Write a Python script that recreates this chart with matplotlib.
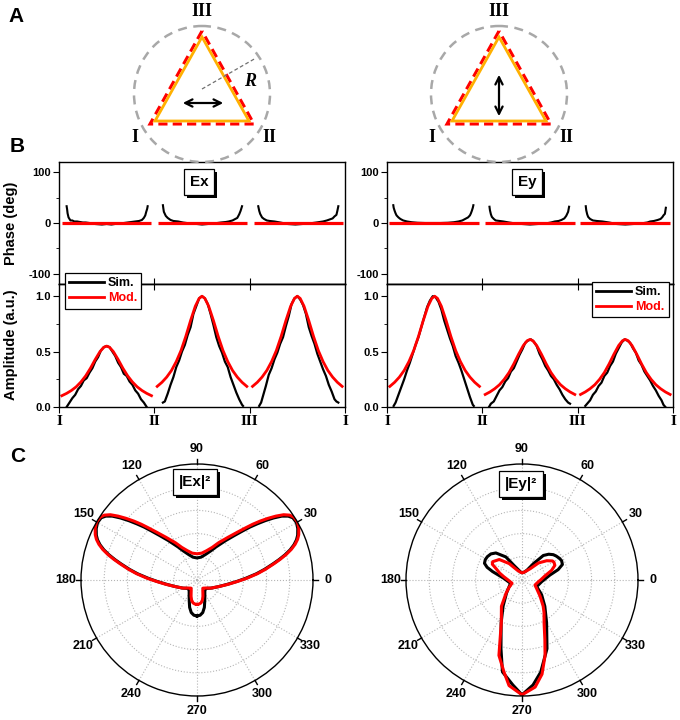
import matplotlib
matplotlib.use("Agg")
import matplotlib.patheffects as pe
import matplotlib.pyplot as plt
import numpy as np
from matplotlib.lines import Line2D
from matplotlib.patches import Circle, Polygon

plt.rcParams['font.family'] = ['Liberation Sans', 'DejaVu Sans']
plt.rcParams['font.weight'] = 'bold'
plt.rcParams['axes.unicode_minus'] = False
plt.rcParams['axes.linewidth'] = 1.0

SERIF = ['Liberation Serif', 'DejaVu Serif']
W, H = 680, 720

# ---------------- data ----------------
side_ticks = [0, 1, 2, 3]
side_names = ['I', 'II', 'III', 'I']

# model phase: flat zero line on each side (start, end along the side)
ex_mod_phase_span = [(0.03, 0.97), (0.04, 0.97), (0.05, 0.98)]
ey_mod_phase_span = [(0.025, 0.96), (0.03, 0.97), (0.025, 0.97)]

# simulated phase (deg), position along each side
ex_sim_phase_pos = [
    [0.08, 0.085, 0.09, 0.10, 0.11, 0.12, 0.14, 0.16, 0.19, 0.22, 0.25, 0.28, 0.32, 0.38, 0.45,
     0.50, 0.55, 0.62, 0.68, 0.72, 0.76, 0.80, 0.84, 0.87, 0.89, 0.905, 0.915, 0.925, 0.93],
    [0.09, 0.095, 0.10, 0.12, 0.14, 0.17, 0.20, 0.25, 0.30, 0.38, 0.45, 0.50, 0.56, 0.62, 0.70,
     0.75, 0.78, 0.82, 0.85, 0.87, 0.89, 0.905, 0.915, 0.92],
    [0.09, 0.10, 0.11, 0.13, 0.15, 0.18, 0.21, 0.26, 0.32, 0.40, 0.48, 0.55, 0.62, 0.70, 0.77,
     0.81, 0.84, 0.87, 0.89, 0.91, 0.92, 0.93],
]
ex_sim_phase = [
    [33, 27, 19, 11, 8, 5, 5, 3, 3, 2, 1, 1, 0, -2, -3, -2, -3, -1, 0, 1, 2, 3, 4, 6, 10, 15, 22, 28, 33],
    [35, 28, 22, 14, 10, 6, 4, 3, 1, -1, -2, -3, -2, -1, 1, 2, 3, 5, 8, 10, 17, 24, 30, 33],
    [33, 24, 18, 11, 8, 5, 4, 3, 1, -2, -3, -2, -1, 1, 3, 5, 7, 9, 13, 16, 24, 33],
]
ey_sim_phase_pos = [
    [0.066, 0.07, 0.08, 0.09, 0.10, 0.12, 0.14, 0.17, 0.21, 0.26, 0.32, 0.40, 0.48, 0.56, 0.64,
     0.70, 0.75, 0.79, 0.82, 0.85, 0.87, 0.88, 0.89, 0.90, 0.906],
    [0.075, 0.08, 0.09, 0.10, 0.12, 0.14, 0.18, 0.22, 0.28, 0.35, 0.42, 0.50, 0.58, 0.66, 0.72,
     0.76, 0.80, 0.83, 0.86, 0.88, 0.90, 0.91],
    [0.085, 0.09, 0.10, 0.11, 0.13, 0.16, 0.20, 0.26, 0.33, 0.41, 0.50, 0.58, 0.66, 0.73, 0.76,
     0.80, 0.84, 0.87, 0.89, 0.90, 0.915, 0.925],
]
ey_sim_phase = [
    [35, 30, 24, 19, 15, 11, 8, 5, 3, 1.5, 0.5, 0, 0, 0, 0.5, 1.5, 3, 5, 8, 11, 15, 19, 24, 30, 35],
    [32, 25, 17, 12, 8, 5, 4, 3, 1, -1, -2, -3, -2, -1, 1, 3, 4, 6, 9, 14, 22, 32],
    [33, 25, 17, 12, 8, 5, 4, 3, 1, -2, -3, -2, -1, 1, 3, 4, 6, 8, 12, 15, 18, 30],
]

# model amplitude, same positions on every side
mod_amp_pos = [0.03, 0.08, 0.13, 0.18, 0.23, 0.28, 0.33, 0.38, 0.43, 0.47, 0.50,
               0.53, 0.57, 0.62, 0.67, 0.72, 0.77, 0.82, 0.87, 0.92, 0.97]
ex_mod_amp = [
    [0.102, 0.123, 0.149, 0.182, 0.226, 0.281, 0.350, 0.429, 0.500, 0.539, 0.550,
     0.539, 0.500, 0.429, 0.350, 0.281, 0.226, 0.182, 0.149, 0.123, 0.102],
    [0.186, 0.223, 0.270, 0.330, 0.410, 0.510, 0.637, 0.780, 0.910, 0.980, 1.000,
     0.980, 0.910, 0.780, 0.637, 0.510, 0.410, 0.330, 0.270, 0.223, 0.186],
    [0.186, 0.223, 0.270, 0.330, 0.410, 0.510, 0.637, 0.780, 0.910, 0.980, 1.000,
     0.980, 0.910, 0.780, 0.637, 0.510, 0.410, 0.330, 0.270, 0.223, 0.186],
]
ey_mod_amp = [
    [0.186, 0.223, 0.270, 0.330, 0.410, 0.510, 0.637, 0.780, 0.910, 0.980, 1.000,
     0.980, 0.910, 0.780, 0.637, 0.510, 0.410, 0.330, 0.270, 0.223, 0.186],
    [0.113, 0.136, 0.165, 0.201, 0.250, 0.311, 0.389, 0.476, 0.555, 0.598, 0.610,
     0.598, 0.555, 0.476, 0.389, 0.311, 0.250, 0.201, 0.165, 0.136, 0.113],
    [0.113, 0.136, 0.165, 0.201, 0.250, 0.311, 0.389, 0.476, 0.555, 0.598, 0.610,
     0.598, 0.555, 0.476, 0.389, 0.311, 0.250, 0.201, 0.165, 0.136, 0.113],
]

# simulated amplitude
ex_sim_amp_pos = [
    [0.08, 0.11, 0.14, 0.17, 0.20, 0.23, 0.26, 0.29, 0.32, 0.35, 0.38, 0.41, 0.44, 0.47, 0.50,
     0.53, 0.56, 0.59, 0.62, 0.65, 0.68, 0.71, 0.74, 0.77, 0.80, 0.83, 0.86, 0.89, 0.92],
    [0.09, 0.11, 0.14, 0.17, 0.20, 0.23, 0.26, 0.29, 0.32, 0.35, 0.38, 0.41, 0.44, 0.47, 0.50,
     0.53, 0.56, 0.59, 0.62, 0.65, 0.68, 0.71, 0.74, 0.77, 0.80, 0.83, 0.86, 0.89, 0.92, 0.93],
    [0.10, 0.12, 0.14, 0.17, 0.20, 0.23, 0.26, 0.29, 0.32, 0.35, 0.38, 0.41, 0.44, 0.47, 0.50,
     0.53, 0.56, 0.59, 0.62, 0.65, 0.68, 0.71, 0.74, 0.77, 0.80, 0.83, 0.86, 0.89, 0.91, 0.93],
]
ex_sim_amp = [
    [0.00, 0.04, 0.08, 0.11, 0.16, 0.19, 0.24, 0.26, 0.31, 0.35, 0.41, 0.45, 0.51, 0.54, 0.55,
     0.54, 0.50, 0.46, 0.40, 0.36, 0.30, 0.28, 0.23, 0.20, 0.15, 0.12, 0.07, 0.04, 0.00],
    [0.04, 0.05, 0.12, 0.20, 0.27, 0.36, 0.42, 0.50, 0.56, 0.65, 0.72, 0.84, 0.91, 0.98, 1.00,
     0.98, 0.93, 0.84, 0.74, 0.63, 0.55, 0.49, 0.41, 0.36, 0.27, 0.20, 0.13, 0.07, 0.02, 0.01],
    [0.01, 0.04, 0.10, 0.19, 0.29, 0.35, 0.43, 0.49, 0.57, 0.63, 0.73, 0.82, 0.93, 0.98, 1.00,
     0.97, 0.92, 0.84, 0.72, 0.64, 0.57, 0.48, 0.41, 0.34, 0.28, 0.20, 0.14, 0.07, 0.05, 0.04],
]
ey_sim_amp_pos = [
    [0.07, 0.09, 0.12, 0.15, 0.18, 0.21, 0.24, 0.27, 0.30, 0.33, 0.36, 0.39, 0.42, 0.45, 0.48,
     0.51, 0.54, 0.57, 0.60, 0.63, 0.66, 0.69, 0.72, 0.75, 0.78, 0.81, 0.84, 0.87, 0.90, 0.91],
    [0.07, 0.09, 0.12, 0.15, 0.18, 0.21, 0.24, 0.27, 0.30, 0.33, 0.36, 0.39, 0.42, 0.45, 0.48,
     0.51, 0.54, 0.57, 0.60, 0.63, 0.66, 0.69, 0.72, 0.75, 0.78, 0.81, 0.84, 0.87, 0.90, 0.92],
    [0.08, 0.10, 0.13, 0.16, 0.19, 0.22, 0.25, 0.28, 0.31, 0.34, 0.37, 0.40, 0.43, 0.46, 0.49,
     0.52, 0.55, 0.58, 0.61, 0.64, 0.67, 0.70, 0.73, 0.76, 0.79, 0.82, 0.85, 0.88, 0.90, 0.92],
]
ey_sim_amp = [
    [0.01, 0.04, 0.11, 0.18, 0.25, 0.33, 0.40, 0.48, 0.56, 0.63, 0.72, 0.81, 0.90, 0.96, 1.00,
     0.99, 0.95, 0.88, 0.78, 0.70, 0.62, 0.55, 0.46, 0.40, 0.33, 0.25, 0.17, 0.09, 0.02, 0.01],
    [0.00, 0.03, 0.05, 0.10, 0.15, 0.18, 0.23, 0.26, 0.32, 0.35, 0.41, 0.47, 0.52, 0.58, 0.60,
     0.61, 0.59, 0.55, 0.48, 0.43, 0.37, 0.33, 0.28, 0.25, 0.20, 0.16, 0.11, 0.07, 0.04, 0.03],
    [0.01, 0.03, 0.06, 0.11, 0.14, 0.19, 0.22, 0.28, 0.31, 0.37, 0.41, 0.48, 0.53, 0.58, 0.61,
     0.60, 0.58, 0.53, 0.49, 0.42, 0.38, 0.32, 0.28, 0.24, 0.19, 0.15, 0.10, 0.06, 0.02, 0.00],
]

# far-field intensity, angle (deg) and radius
ex_ang = [-90, -85, -80, -75, -70, -65, -60, -54, -44, -30, -17, -8, -2, 2, 6, 9, 12, 14, 16, 18,
          20, 22, 24, 27, 30, 33, 35, 37, 39, 41, 43, 45, 47, 50, 54, 60, 65, 72, 80, 90,
          100, 108, 115, 120, 126, 130, 133, 135, 137, 139, 141, 143, 145, 147, 150, 153, 156, 158,
          160, 162, 164, 166, 168, 171, 174, 178, 182, 188, 197, 210, 224, 234, 240, 245, 250, 255,
          260, 265, 270]
ex_mod_r = [0.21, 0.208, 0.20, 0.18, 0.15, 0.12, 0.10, 0.087, 0.10, 0.14, 0.195, 0.27, 0.35, 0.43,
            0.525, 0.60, 0.68, 0.74, 0.80, 0.855, 0.90, 0.935, 0.96, 0.985, 1.0, 0.995, 0.975, 0.935,
            0.875, 0.81, 0.745, 0.68, 0.615, 0.535, 0.455, 0.37, 0.31, 0.265, 0.235, 0.226,
            0.235, 0.265, 0.31, 0.37, 0.455, 0.535, 0.615, 0.68, 0.745, 0.81, 0.875, 0.935, 0.975,
            0.995, 1.0, 0.985, 0.96, 0.935, 0.90, 0.855, 0.80, 0.74, 0.68, 0.60, 0.525, 0.43, 0.35,
            0.27, 0.195, 0.14, 0.10, 0.087, 0.10, 0.12, 0.15, 0.18, 0.20, 0.208, 0.21]
ex_sim_r = [0.31, 0.305, 0.285, 0.245, 0.195, 0.16, 0.135, 0.115, 0.105, 0.14, 0.195, 0.265, 0.345,
            0.42, 0.515, 0.59, 0.67, 0.73, 0.79, 0.845, 0.89, 0.925, 0.95, 0.975, 0.99, 0.985, 0.96,
            0.915, 0.85, 0.78, 0.71, 0.645, 0.58, 0.50, 0.42, 0.33, 0.275, 0.23, 0.20, 0.19,
            0.20, 0.23, 0.275, 0.33, 0.42, 0.50, 0.58, 0.645, 0.71, 0.78, 0.85, 0.915, 0.96, 0.985,
            0.99, 0.975, 0.95, 0.925, 0.89, 0.845, 0.79, 0.73, 0.67, 0.59, 0.515, 0.42, 0.345,
            0.265, 0.195, 0.14, 0.105, 0.115, 0.135, 0.16, 0.195, 0.245, 0.285, 0.305, 0.31]

ey_mod_ang = [-90, -83, -78, -73, -69, -63, -56, -51, -42, -30, -21, -6, 0, 10, 18, 24, 29, 32, 38,
              46, 54, 65, 78, 90, 101, 116, 128, 138, 148, 152, 156, 163, 170, 180, 198, 210, 220,
              232, 244, 253, 259, 263, 270]
ey_mod_r = [0.99, 0.93, 0.83, 0.68, 0.55, 0.42, 0.34, 0.29, 0.21, 0.145, 0.12, 0.142, 0.16, 0.20,
            0.268, 0.31, 0.315, 0.31, 0.27, 0.204, 0.12, 0.085, 0.066, 0.062, 0.068, 0.095, 0.18,
            0.264, 0.298, 0.29, 0.247, 0.20, 0.158, 0.12, 0.09, 0.13, 0.18, 0.288, 0.407, 0.68,
            0.81, 0.917, 0.99]
ey_sim_ang = [-90, -84, -78.5, -70, -60, -49, -37, -24, -5, 10, 16, 21, 26, 30, 35, 39, 44, 49, 55,
              63, 75, 90, 101, 119, 125, 134, 140, 146, 151, 156, 160, 164, 175, 196, 220, 234,
              244, 253, 258, 265, 270]
ey_sim_r = [0.99, 0.91, 0.81, 0.63, 0.424, 0.30, 0.212, 0.139, 0.17, 0.244, 0.324, 0.373, 0.38,
            0.373, 0.36, 0.347, 0.32, 0.28, 0.172, 0.095, 0.07, 0.062, 0.072, 0.145, 0.243, 0.324,
            0.35, 0.36, 0.362, 0.354, 0.32, 0.264, 0.156, 0.103, 0.174, 0.277, 0.41, 0.62, 0.81,
            0.908, 0.99]

polar_ticks = [0, 30, 60, 90, 120, 150, 180, 210, 240, 270, 300, 330]
polar_rings = [0.2, 0.4, 0.6, 0.8]


def px_rect(x0, y0, x1, y1):
    return [x0 / W, 1 - y1 / H, (x1 - x0) / W, (y1 - y0) / H]


def boxed_label(ax, x, y, text):
    t = ax.text(x, y, text, ha='center', va='center', fontsize=11, fontweight='bold',
                bbox=dict(boxstyle='square,pad=0.4', fc='white', ec='black', lw=0.9))
    t.get_bbox_patch().set_path_effects([
        pe.SimplePatchShadow(offset=(2.2, -2.2), shadow_rgbFace='black', alpha=1.0),
        pe.Normal()])


fig = plt.figure(figsize=(W / 100, H / 100), dpi=100)

panels = [
    (59, 345, ex_mod_phase_span, ex_sim_phase_pos, ex_sim_phase, ex_mod_amp, ex_sim_amp_pos, ex_sim_amp,
     dict(loc='upper left', bbox_to_anchor=(0.02, 1.09))),
    (387, 673, ey_mod_phase_span, ey_sim_phase_pos, ey_sim_phase, ey_mod_amp, ey_sim_amp_pos, ey_sim_amp,
     dict(loc='upper right', bbox_to_anchor=(0.985, 1.02))),
]

for x0, x1, spans, ph_pos, ph_val, mod_amp, sim_pos, sim_amp, leg_kw in panels:
    # phase
    axp = fig.add_axes(px_rect(x0, 162, x1, 284))
    for k in range(3):
        axp.plot(k + np.array(ph_pos[k]), ph_val[k], color='black', lw=1.5)
        axp.plot([k + spans[k][0], k + spans[k][1]], [0, 0], color='red', lw=2.3, solid_capstyle='butt')
    axp.set_xlim(0, 3)
    axp.set_ylim(-120, 120)
    axp.set_yticks([-100, 0, 100])
    axp.set_yticks([-50, 50], minor=True)
    axp.set_xticks([1, 2])
    axp.tick_params(axis='x', direction='in', length=4, labelbottom=False)
    axp.tick_params(axis='y', which='major', direction='out', length=4, labelsize=8, pad=2)
    axp.tick_params(axis='y', which='minor', direction='out', length=2.5)

    # amplitude
    axa = fig.add_axes(px_rect(x0, 284, x1, 407))
    for k in range(3):
        axa.plot(k + np.array(sim_pos[k]), sim_amp[k], color='black', lw=1.6)
        axa.plot(k + np.array(mod_amp_pos), mod_amp[k], color='red', lw=2.0)
    axa.set_xlim(0, 3)
    axa.set_ylim(0, 1.11)
    axa.set_yticks([0, 0.5, 1.0])
    axa.set_yticklabels(['0.0', '0.5', '1.0'])
    axa.set_yticks([0.25, 0.75], minor=True)
    axa.set_xticks(side_ticks)
    axa.set_xticklabels(side_names, family=SERIF, fontsize=11, fontweight='bold')
    axa.tick_params(axis='x', direction='out', length=4, pad=2)
    axa.tick_params(axis='y', which='major', direction='out', length=4, labelsize=8, pad=2)
    axa.tick_params(axis='y', which='minor', direction='out', length=2.5)
    top = axa.secondary_xaxis('top')
    top.set_xticks([1, 2])
    top.tick_params(direction='in', length=4, labeltop=False)

    handles = [Line2D([], [], color='black', lw=2, label='Sim.'),
               Line2D([], [], color='red', lw=2, label='Mod.')]
    leg = axa.legend(handles=handles, fontsize=9, frameon=True, fancybox=False, framealpha=1,
                     edgecolor='black', handlelength=2.8, borderpad=0.35, labelspacing=0.25,
                     handletextpad=0.3, borderaxespad=0, **leg_kw)
    leg.get_frame().set_linewidth(0.9)
    leg.set_zorder(20)
    for txt, c in zip(leg.get_texts(), ['black', 'red']):
        txt.set_color(c)

# polar plots
polar_sets = [
    ((81, 464, 313, 696), ex_ang, ex_sim_r, ex_ang, ex_mod_r),
    ((406, 464, 638, 696), ey_sim_ang, ey_sim_r, ey_mod_ang, ey_mod_r),
]
for rect, a_sim, r_sim, a_mod, r_mod in polar_sets:
    pax = fig.add_axes(px_rect(*rect), projection='polar')
    pax.plot(np.deg2rad(a_sim), r_sim, color='black', lw=2.2)
    pax.plot(np.deg2rad(a_mod), r_mod, color='red', lw=2.2)
    pax.set_ylim(0, 1)
    pax.set_rgrids(polar_rings)
    pax.set_yticklabels([])
    pax.set_thetagrids(polar_ticks, labels=[str(t) for t in polar_ticks])
    pax.grid(True, ls=':', color='#b5b5b5', lw=0.8)
    pax.tick_params(axis='x', labelsize=9, pad=4, length=0)
    pax.spines['polar'].set_linewidth(1.0)
    # short outward tick marks on the rim
    for t in polar_ticks:
        pax.plot([np.deg2rad(t)] * 2, [1.0, 1.04], color='black', lw=1.0, clip_on=False)
    pax.set_ylim(0, 1)

# overlay in pixel coordinates: schematic, panel letters, axis titles, boxed labels
ov = fig.add_axes([0, 0, 1, 1], zorder=10)
ov.set_xlim(0, W)
ov.set_ylim(H, 0)
ov.axis('off')
ov.patch.set_visible(False)

for cx, arrow in [(202, 'h'), (499, 'v')]:
    ov.add_patch(Circle((cx, 94), 68, fill=False, ec='#a8a8a8', lw=1.8, ls=(0, (3.6, 2.6))))
    ov.add_patch(Polygon([(cx, 31), (cx - 52, 124), (cx + 52, 124)], closed=True, fill=False,
                         ec='red', lw=2.2, ls=(0, (3, 1.7))))
    ov.add_patch(Polygon([(cx, 37), (cx - 47, 121), (cx + 47, 121)], closed=True, fill=False,
                         ec='#ffb000', lw=2.0, joinstyle='miter'))
    if arrow == 'h':
        ov.annotate('', xy=(cx + 24, 103), xytext=(cx - 22, 103),
                    arrowprops=dict(arrowstyle='<->', lw=1.6, color='black', mutation_scale=13))
    else:
        ov.annotate('', xy=(cx, 119), xytext=(cx, 72),
                    arrowprops=dict(arrowstyle='<->', lw=1.6, color='black', mutation_scale=13))
    ov.text(cx, 11, 'III', ha='center', va='center', family=SERIF, fontsize=13, fontweight='bold')
    ov.text(cx - 67, 138, 'I', ha='center', va='center', family=SERIF, fontsize=13, fontweight='bold')
    ov.text(cx + 67, 138, 'II', ha='center', va='center', family=SERIF, fontsize=13, fontweight='bold')

ov.plot([202, 256], [89, 58], ls=(0, (3, 2)), color='#707070', lw=0.9)
ov.text(250, 81, 'R', ha='center', va='center', family=SERIF, fontsize=13,
        fontweight='bold', style='italic')

for letter, (lx, ly) in {'A': (16, 17), 'B': (17, 146), 'C': (18, 456)}.items():
    ov.text(lx, ly, letter, ha='center', va='center', fontsize=15, fontweight='bold')

ov.text(11, 223, 'Phase (deg)', ha='center', va='center', rotation=90, fontsize=10.5, fontweight='bold')
ov.text(11, 345, 'Amplitude (a.u.)', ha='center', va='center', rotation=90, fontsize=10.5,
        fontweight='bold')

boxed_label(ov, 199, 182, 'Ex')
boxed_label(ov, 527, 182, 'Ey')
boxed_label(ov, 195, 482, '|Ex|²')
boxed_label(ov, 521, 484, '|Ey|²')

fig.savefig('out.png', dpi=100)
